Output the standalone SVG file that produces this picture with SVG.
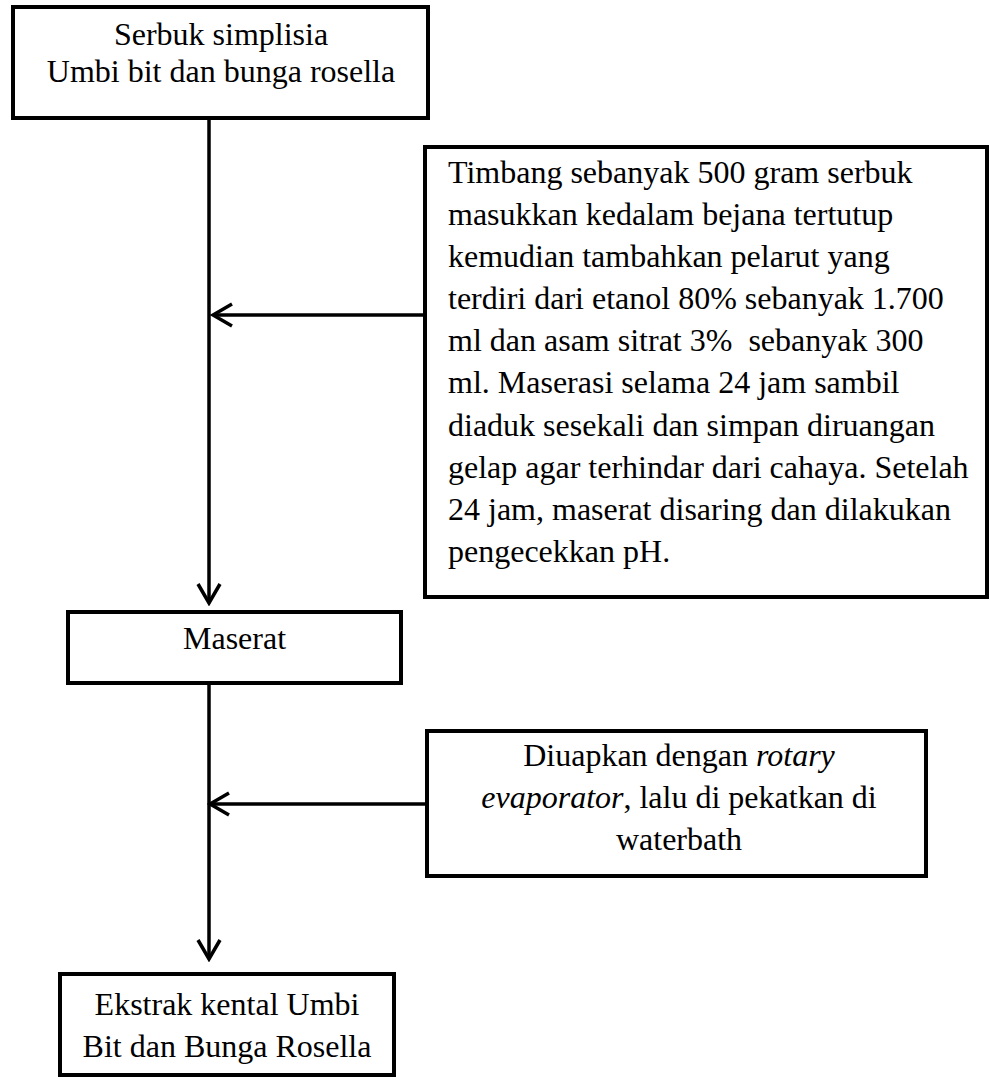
<svg xmlns="http://www.w3.org/2000/svg" width="989" height="1080" viewBox="0 0 989 1080">
  <style>
    .box { fill: #ffffff; stroke: #000000; stroke-width: 4; }
    .link { fill: none; stroke: #000000; stroke-width: 3.5; marker-end: url(#chevron); }
    .label { font-family: "Liberation Serif", "Times New Roman", serif; font-size: 32px; fill: #000000; }
    .mid { text-anchor: middle; }
    .it { font-style: italic; }
  </style>
  <defs>
    <marker id="chevron" viewBox="0 0 24 26" refX="21" refY="13" markerWidth="24" markerHeight="26" markerUnits="userSpaceOnUse" orient="auto">
      <path d="M2,2 L21,13 L2,24" fill="none" stroke="#000000" stroke-width="3.5" stroke-linejoin="miter"/>
    </marker>
  </defs>
  <rect width="989" height="1080" fill="#ffffff"/>

  <!-- flow connectors -->
  <g id="connectors">
    <path class="link" d="M209,118 L209,603"/>
    <path class="link" d="M425,315 L213,315"/>
    <path class="link" d="M209,683 L209,959"/>
    <path class="link" d="M427,804 L210,804"/>
  </g>

  <!-- start material -->
  <g id="node-serbuk">
    <rect class="box" x="13" y="7" width="415" height="111"/>
    <text class="label mid" x="221" y="45">Serbuk simplisia</text>
    <text class="label mid" x="221" y="82">Umbi bit dan bunga rosella</text>
  </g>

  <!-- maceration procedure -->
  <g id="node-maserasi">
    <rect class="box" x="425" y="147" width="562" height="450"/>
    <text class="label" x="448" y="183">Timbang sebanyak 500 gram serbuk</text>
    <text class="label" x="448" y="225">masukkan kedalam bejana tertutup</text>
    <text class="label" x="448" y="267">kemudian tambahkan pelarut yang</text>
    <text class="label" x="448" y="309">terdiri dari etanol 80% sebanyak 1.700</text>
    <text class="label" x="448" y="351" xml:space="preserve">ml dan asam sitrat 3%  sebanyak 300</text>
    <text class="label" x="448" y="393">ml. Maserasi selama 24 jam sambil</text>
    <text class="label" x="448" y="436">diaduk sesekali dan simpan diruangan</text>
    <text class="label" x="448" y="478">gelap agar terhindar dari cahaya. Setelah</text>
    <text class="label" x="448" y="520">24 jam, maserat disaring dan dilakukan</text>
    <text class="label" x="448" y="562">pengecekkan pH.</text>
  </g>

  <!-- macerate -->
  <g id="node-maserat">
    <rect class="box" x="68" y="612" width="333" height="71"/>
    <text class="label mid" x="234.5" y="649">Maserat</text>
  </g>

  <!-- evaporation step -->
  <g id="node-evaporasi">
    <rect class="box" x="427" y="731" width="499" height="145"/>
    <text class="label mid" x="679" y="766">Diuapkan dengan <tspan class="it">rotary</tspan></text>
    <text class="label mid" x="679" y="808"><tspan class="it">evaporator</tspan>, lalu di pekatkan di</text>
    <text class="label mid" x="679" y="850">waterbath</text>
  </g>

  <!-- final product -->
  <g id="node-ekstrak">
    <rect class="box" x="60" y="974" width="334" height="101"/>
    <text class="label mid" x="227" y="1015">Ekstrak kental Umbi</text>
    <text class="label mid" x="227" y="1057">Bit dan Bunga Rosella</text>
  </g>
</svg>
